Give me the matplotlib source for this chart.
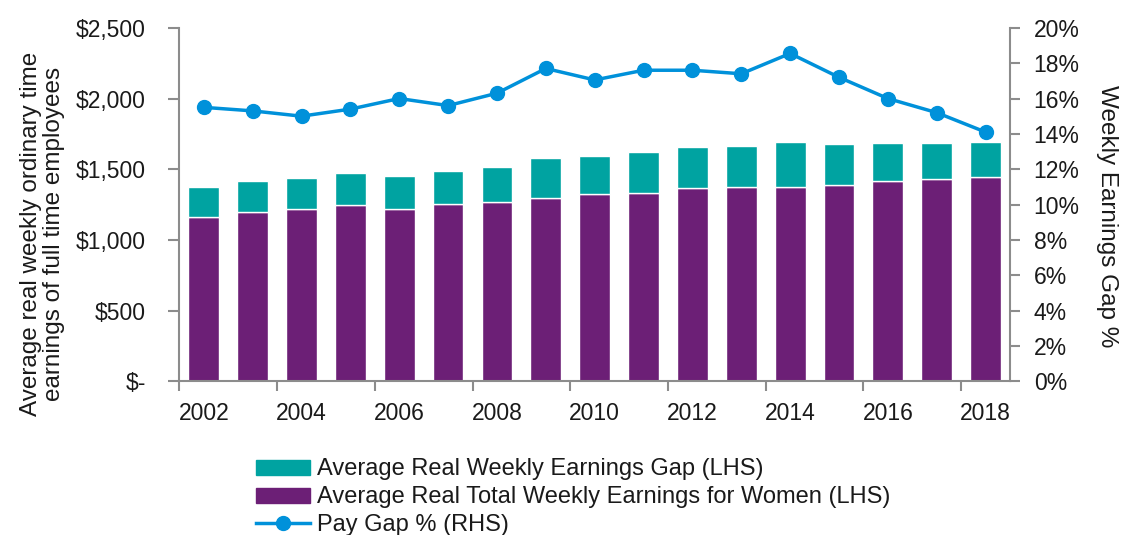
import numpy as np
import matplotlib
matplotlib.use('Agg')
import matplotlib.pyplot as plt
from matplotlib.patches import Patch
from matplotlib.lines import Line2D
from matplotlib.ticker import FuncFormatter

years = [2002, 2003, 2004, 2005, 2006, 2007, 2008, 2009, 2010,
         2011, 2012, 2013, 2014, 2015, 2016, 2017, 2018]
women = [1164, 1199, 1221, 1247, 1219, 1252, 1266, 1299, 1322,
         1334, 1365, 1372, 1376, 1391, 1414, 1429, 1447]
total = [1376, 1419, 1436, 1475, 1452, 1487, 1516, 1579, 1593,
         1622, 1657, 1662, 1690, 1680, 1683, 1686, 1690]
pay_gap = [15.5, 15.3, 15.0, 15.4, 16.0, 15.6, 16.3, 17.7, 17.05,
           17.6, 17.6, 17.4, 18.55, 17.2, 16.0, 15.2, 14.1]

teal = '#00A3A1'
purple = '#6C1F76'
blue = '#0091DA'
grey = '#8C8C8C'
txt = '#1a1a1a'

plt.rcParams['font.family'] = ['Liberation Sans', 'DejaVu Sans']
plt.rcParams['font.size'] = 16

x = np.arange(len(years))
gap = np.array(total) - np.array(women)

fig = plt.figure(figsize=(11.21, 5.35), dpi=100)
ax = fig.add_axes([0.16, 0.2873, 0.741, 0.6607])
ax.bar(x, women, width=0.63, color=purple, edgecolor='white', linewidth=1, zorder=2)
ax.bar(x, gap, bottom=women, width=0.63, color=teal, edgecolor='white', linewidth=1, zorder=2)
ax.set_xlim(-0.5, 16.5)
ax.set_ylim(0, 2500)
ax.set_yticks(range(0, 2501, 500))
ax.yaxis.set_major_formatter(FuncFormatter(lambda v, p: '$-' if v == 0 else f'${v:,.0f}'))

# tick marks between categories, labels under every second bar
ax.set_xticks(np.arange(-0.5, 16, 2))
ax.set_xticklabels([])
ax.set_xticks(x[::2], minor=True)
ax.set_xticklabels([str(y) for y in years[::2]], minor=True)
ax.tick_params(axis='x', which='major', length=7, width=1.5, color=grey)
ax.tick_params(axis='x', which='minor', length=0, pad=15, labelcolor=txt, labelsize=16.5)
ax.tick_params(axis='y', length=8, width=1.5, color=grey, labelcolor=txt, pad=16, labelsize=16.5)

for s in ['top', 'right']:
    ax.spines[s].set_visible(False)
for s in ['left', 'bottom']:
    ax.spines[s].set_color(grey)
    ax.spines[s].set_linewidth(1.5)

ax2 = ax.twinx()
ax2.plot(x, pay_gap, color=blue, linewidth=2.5, marker='o', markersize=10, zorder=3)
ax2.set_ylim(0, 20)
ax2.set_yticks(range(0, 21, 2))
ax2.yaxis.set_major_formatter(FuncFormatter(lambda v, p: f'{v:.0f}%'))
ax2.tick_params(axis='y', length=7, width=1.5, color=grey, labelcolor=txt, pad=10, labelsize=16.5)
for s in ['top', 'left', 'bottom']:
    ax2.spines[s].set_visible(False)
ax2.spines['right'].set_color(grey)
ax2.spines['right'].set_linewidth(1.5)

fig.text(0.038, 0.563, 'Average real weekly ordinary time\nearnings of full time employees',
         rotation=90, ha='center', va='center', fontsize=17.5, color=txt, linespacing=1.05)
fig.text(0.9875, 0.596, 'Weekly Earnings Gap %', rotation=270, ha='center', va='center',
         fontsize=17.5, color=txt)

handles = [Patch(color=teal), Patch(color=purple),
           Line2D([0], [0], color=blue, linewidth=2.5, marker='o', markersize=10)]
labels = ['Average Real Weekly Earnings Gap (LHS)',
          'Average Real Total Weekly Earnings for Women (LHS)',
          'Pay Gap % (RHS)']
fig.legend(handles, labels, loc='upper left', bbox_to_anchor=(0.228, 0.143),
           frameon=False, fontsize=17, handlelength=2.3, handleheight=0.6,
           handletextpad=0.3, labelspacing=0.25, borderaxespad=0, borderpad=0,
           labelcolor=txt)

plt.savefig('out.png', dpi=100)
plt.close()
